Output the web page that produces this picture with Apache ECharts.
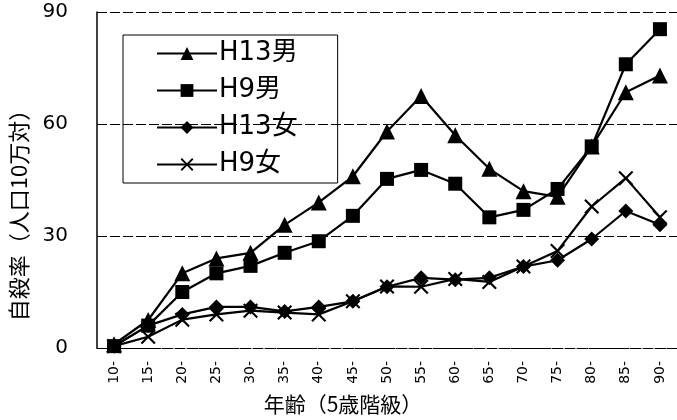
<!DOCTYPE html>
<html>
<head>
<meta charset="utf-8">
<script src="https://cdn.jsdelivr.net/npm/echarts@6/dist/echarts.min.js"></script>
<style>
html, body { margin: 0; padding: 0; background: #fff; }
#main { width: 677px; height: 420px; }
</style>
</head>
<body>
<div id="main"></div>
<script>
var ages = ['10-', '15-', '20-', '25-', '30-', '35-', '40-', '45-', '50-', '55-', '60-', '65-', '70-', '75-', '80-', '85-', '90-'];
var h13Male = [1, 7.5, 20, 24, 25.5, 33, 39, 46, 58, 67.5, 57, 48, 42, 40.5, 54, 68.5, 73];
var h9Male = [0.5, 6, 15, 20, 22, 25.5, 28.6, 35.4, 45.3, 47.7, 44, 35, 37, 42.6, 54, 76, 85.4];
var h13Female = [0.5, 6, 9, 11, 11, 9.8, 11, 12.5, 16.4, 18.8, 18.3, 18.8, 21.8, 23.5, 29.2, 36.7, 33];
var h9Female = [0.5, 3, 7.6, 9, 10, 9.5, 9, 12.5, 16.5, 16.4, 18.5, 17.7, 21.8, 26, 37.9, 45.5, 35];
var yTicks = [0, 30, 60, 90];

var font = '"DejaVu Sans", "Noto Sans CJK JP", sans-serif';
var cjk = '"Noto Sans CJK JP", "DejaVu Sans", sans-serif';
var crossPath = 'path://M0,1 L1,0 L5,4 L9,0 L10,1 L6,5 L10,9 L9,10 L5,6 L1,10 L0,9 L4,5 Z';

function line(name, data, symbol, size) {
    return {
        name: name,
        type: 'line',
        data: data,
        symbol: symbol,
        symbolSize: size,
        showAllSymbol: true,
        lineStyle: { color: '#000', width: 2.2 },
        itemStyle: { color: '#000' },
        animation: false
    };
}

var myChart = echarts.init(document.getElementById('main'));
var option = {
    backgroundColor: '#fff',
    animation: false,
    textStyle: { fontFamily: font, color: '#000' },
    legend: {
        orient: 'vertical',
        left: 123,
        top: 35,
        padding: [5, 40, 5, 33],
        borderColor: '#000',
        borderWidth: 1,
        itemWidth: 60,
        itemHeight: 16,
        itemGap: 10,
        textStyle: { fontSize: 26, lineHeight: 27, color: '#000', fontFamily: font, padding: [0, 0, 0, -3] },
        data: ['H13男', 'H9男', 'H13女', 'H9女']
    },
    grid: {
        left: 97,
        right: 0,
        top: 12,
        bottom: 72,
        containLabel: false,
        outerBoundsMode: 'none'
    },
    xAxis: {
        type: 'category',
        data: ages,
        boundaryGap: true,
        name: '年齢（5歳階級）',
        nameLocation: 'middle',
        nameGap: 46,
        nameTextStyle: { fontSize: 21, color: '#000', fontFamily: cjk, padding: [0, 88, 0, 0] },
        axisTick: { show: false },
        axisLine: { lineStyle: { color: '#000', width: 1, type: 'dashed' } },
        axisLabel: { rotate: 90, fontSize: 14, color: '#000', interval: 0, margin: 13, fontFamily: font }
    },
    yAxis: {
        type: 'value',
        min: yTicks[0],
        max: yTicks[yTicks.length - 1],
        interval: 30,
        name: '自殺率（人口10万対）',
        nameLocation: 'middle',
        nameRotate: 90,
        nameGap: 67,
        nameTextStyle: { fontSize: 22, color: '#000', fontFamily: cjk, padding: [0, 60, 0, 0] },
        axisLine: { show: true, lineStyle: { color: '#000', width: 1.5 } },
        axisTick: { show: false },
        axisLabel: { fontSize: 20, color: '#000', margin: 29, fontFamily: font },
        splitLine: { show: true, lineStyle: { color: '#000', width: 1, type: [10, 3] } }
    },
    series: [
        line('H13男', h13Male, 'triangle', 16),
        line('H9男', h9Male, 'rect', 14),
        line('H13女', h13Female, 'diamond', 15),
        line('H9女', h9Female, crossPath, 15)
    ]
};
myChart.setOption(option);
</script>
</body>
</html>
